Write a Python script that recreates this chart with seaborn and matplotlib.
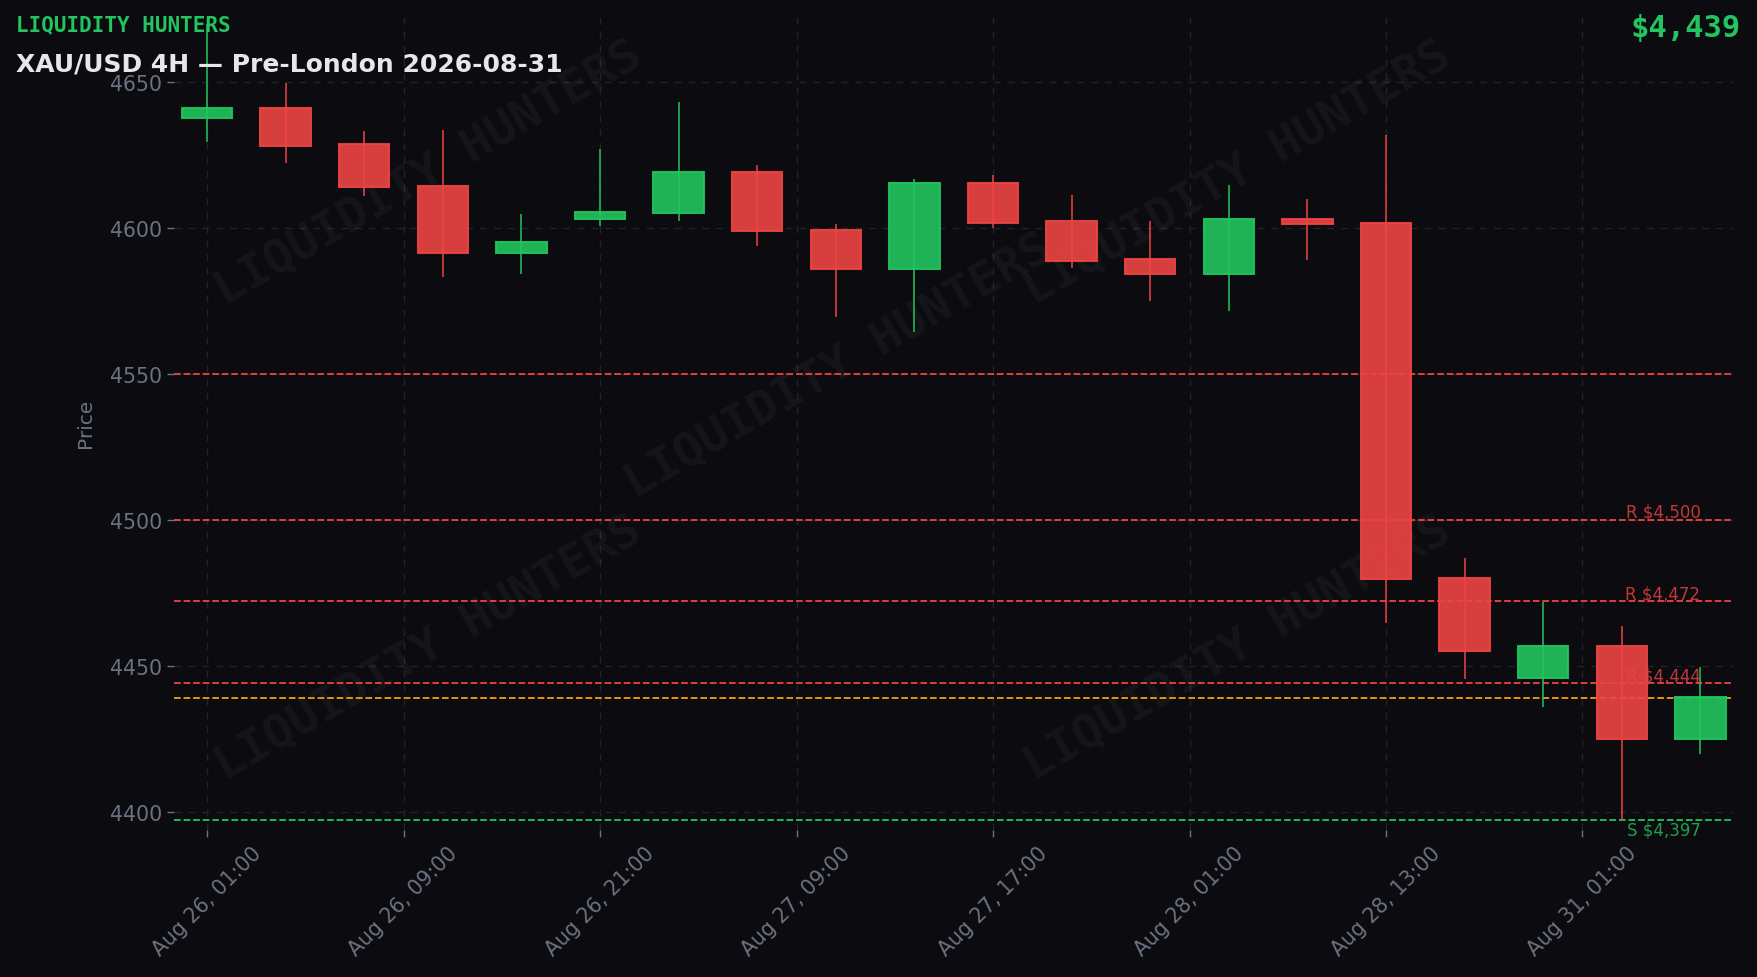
import numpy as np
import matplotlib
matplotlib.use("Agg")
import matplotlib.pyplot as plt
import seaborn as sns

# 4H candles, XAU/USD
times = ["Aug 26, 01:00", "Aug 26, 05:00", "Aug 26, 09:00", "Aug 26, 13:00", "Aug 26, 17:00",
         "Aug 26, 21:00", "Aug 27, 01:00", "Aug 27, 05:00", "Aug 27, 09:00", "Aug 27, 13:00",
         "Aug 27, 17:00", "Aug 27, 21:00", "Aug 28, 01:00", "Aug 28, 05:00", "Aug 28, 09:00",
         "Aug 28, 13:00", "Aug 28, 17:00", "Aug 28, 21:00", "Aug 31, 01:00", "Aug 31, 05:00"]
opens = [4637.5, 4641.0, 4628.6, 4614.5, 4591.4, 4603.2, 4605.0, 4619.0, 4599.2, 4585.8,
         4615.3, 4602.3, 4589.3, 4584.2, 4603.0, 4601.8, 4479.9, 4445.7, 4456.6, 4424.8]
highs = [4670.0, 4649.6, 4633.1, 4633.5, 4604.7, 4627.0, 4643.0, 4621.5, 4601.3, 4616.7,
         4618.0, 4611.2, 4602.3, 4614.6, 4609.8, 4631.7, 4486.9, 4471.8, 4463.6, 4449.4]
lows = [4629.5, 4622.3, 4611.0, 4583.2, 4584.2, 4600.7, 4602.4, 4593.8, 4569.5, 4564.4,
        4599.9, 4586.1, 4574.9, 4571.5, 4589.0, 4464.7, 4445.4, 4435.9, 4397.0, 4419.6]
closes = [4641.0, 4628.1, 4614.0, 4591.4, 4595.0, 4605.3, 4619.0, 4598.8, 4585.8, 4615.3,
          4601.8, 4588.8, 4584.2, 4603.0, 4601.4, 4479.7, 4454.9, 4456.6, 4424.8, 4439.3]

resistance = [4550, 4500, 4472, 4444]
resistance_labeled = [False, True, True, True]
support = 4397
current = 4439

BG = "#0b0b10"
GREEN = "#22c55e"
RED = "#ef4444"
ORANGE = "#f59e0b"
GREY = "#6b7280"
GRID = "#22222b"

sns.set_theme(style="dark", rc={
    "figure.facecolor": BG, "axes.facecolor": BG, "savefig.facecolor": BG,
    "axes.grid": True, "grid.color": GRID, "grid.linestyle": (0, (5, 5)), "grid.linewidth": 1.0,
    "xtick.color": GREY, "ytick.color": GREY, "axes.labelcolor": GREY,
    "xtick.bottom": True, "ytick.left": True,
})
plt.rcParams["font.family"] = ["DejaVu Sans"]

fig, ax = plt.subplots(figsize=(17.58, 9.78), dpi=100)
fig.subplots_adjust(left=0.099, right=0.986, bottom=0.150, top=0.985)

x = np.arange(len(opens))
o = np.array(opens); c = np.array(closes); h = np.array(highs); l = np.array(lows)
up = c >= o
cols = np.where(up, GREEN, RED)

# wicks
ax.vlines(x, l, h, colors=cols, linewidth=1.1, zorder=3)
# bodies
bottoms = np.minimum(o, c)
heights = np.maximum(np.abs(c - o), 0.6)
for i in range(len(x)):
    ax.bar(x[i], heights[i], bottom=bottoms[i], width=0.64, color=cols[i], alpha=0.9,
           edgecolor=cols[i], linewidth=1.5, zorder=4)

# levels
for lvl, lab in zip(resistance, resistance_labeled):
    ax.axhline(lvl, color=RED, linestyle="--", linewidth=1.3, zorder=2)
    if lab:
        ax.text(len(x) - 1, lvl - 0.3, f"R ${lvl:,}", color=RED, alpha=0.8, fontsize=12,
                ha="right", va="bottom", zorder=5)
ax.axhline(current, color=ORANGE, linestyle="--", linewidth=1.3, zorder=2)
ax.axhline(support, color=GREEN, linestyle="--", linewidth=1.3, zorder=2)
ax.text(len(x) - 1, support - 0.1, f"S ${support:,}", color=GREEN, alpha=0.8, fontsize=12,
        ha="right", va="top", zorder=5)

# watermark
for fx, fy in [(0.163, 0.805), (0.682, 0.805), (0.426, 0.569), (0.163, 0.224), (0.682, 0.224)]:
    ax.text(fx, fy, "LIQUIDITY HUNTERS", transform=ax.transAxes, rotation=30,
            fontsize=34, fontweight="bold", family="DejaVu Sans Mono", color="white",
            alpha=0.045, ha="center", va="center", zorder=1)

pad = 3.4
ax.set_ylim(min(lows) - pad, max(highs) + pad)
ax.set_xlim(-0.42, len(x) - 1 + 0.42)
ax.set_yticks([4400, 4450, 4500, 4550, 4600, 4650])
tick_pos = np.arange(0, len(x), 2.5)
ax.set_xticks(tick_pos)
ax.set_xticklabels([times[int(round(t))] for t in tick_pos], rotation=45)
ax.tick_params(axis="both", labelsize=14.8, length=5, width=1, colors=GREY)
ax.set_ylabel("Price", fontsize=14.5, labelpad=10.5)
for s in ax.spines.values():
    s.set_visible(False)

fig.text(0.009, 0.974, "LIQUIDITY HUNTERS", color=GREEN, fontsize=15, fontweight="bold",
         family="DejaVu Sans Mono", ha="left", va="center")
fig.text(0.009, 0.934, "XAU/USD 4H \u2014 Pre-London 2026-08-31", color="#e5e7eb", fontsize=18,
         fontweight="bold", ha="left", va="center")
fig.text(0.990, 0.971, f"${current:,}", color=GREEN, fontsize=22, fontweight="bold",
         family="DejaVu Sans Mono", ha="right", va="center")

fig.savefig("out.png", dpi=100, facecolor=BG)
